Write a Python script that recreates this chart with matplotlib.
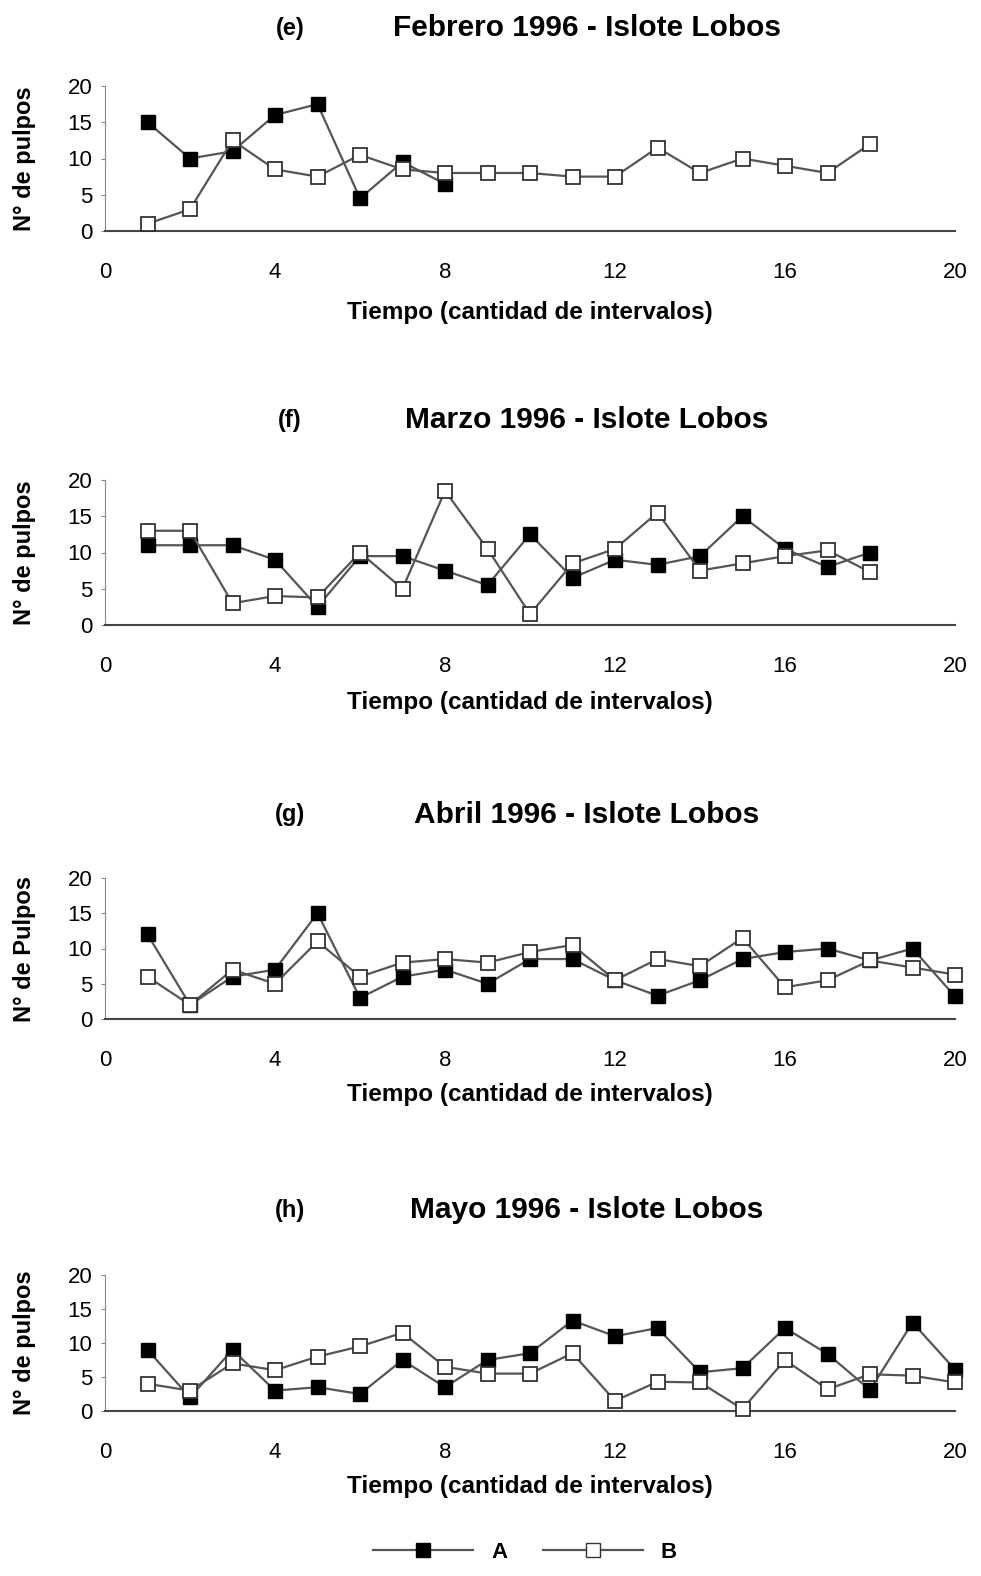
import matplotlib
matplotlib.use("Agg")
import matplotlib.pyplot as plt

plt.rcParams['font.family'] = ['Liberation Sans', 'DejaVu Sans']

# panel titles and y labels
letters = ["(e)", "(f)", "(g)", "(h)"]
titles = ["Febrero 1996 - Islote Lobos", "Marzo 1996 - Islote Lobos",
          "Abril 1996 - Islote Lobos", "Mayo 1996 - Islote Lobos"]
ylabels = ["N° de pulpos", "N° de pulpos", "N° de Pulpos", "N° de pulpos"]

# (e) Febrero
feb_x_a = [1, 2, 3, 4, 5, 6, 7, 8]
feb_a = [15, 10, 11, 16, 17.5, 4.5, 9.5, 6.5]
feb_x_b = list(range(1, 19))
feb_b = [1, 3, 12.5, 8.5, 7.5, 10.5, 8.5, 8, 8, 8, 7.5, 7.5, 11.5, 8, 10, 9, 8, 12]

# (f) Marzo
mar_x = list(range(1, 19))
mar_a = [11, 11, 11, 9, 2.5, 9.5, 9.5, 7.5, 5.5, 12.5, 6.5, 9, 8.3, 9.5, 15, 10.5, 8, 10]
mar_b = [13, 13, 3, 4, 3.8, 10, 5, 18.5, 10.5, 1.5, 8.5, 10.5, 15.5, 7.5, 8.5, 9.5, 10.3, 7.3]

# (g) Abril
abr_x = list(range(1, 21))
abr_a = [12, 2, 6, 7, 15, 3, 6, 7, 5, 8.5, 8.5, 5.5, 3.3, 5.5, 8.5, 9.5, 10, 8.3, 10, 3.2]
abr_b = [6, 2, 7, 5, 11, 6, 8, 8.5, 8, 9.5, 10.5, 5.5, 8.5, 7.5, 11.5, 4.5, 5.5, 8.3, 7.3, 6.3]

# (h) Mayo
may_x = list(range(1, 21))
may_a = [9, 2, 9, 3, 3.5, 2.5, 7.5, 3.5, 7.5, 8.5, 13.3, 11, 12.2, 5.7, 6.3, 12.2, 8.4, 3.1, 13, 6.1]
may_b = [4, 3, 7, 6, 8, 9.5, 11.5, 6.5, 5.5, 5.5, 8.5, 1.5, 4.3, 4.2, 0.3, 7.5, 3.2, 5.4, 5.2, 4.2]

panels = [
    (feb_x_a, feb_a, feb_x_b, feb_b),
    (mar_x, mar_a, mar_x, mar_b),
    (abr_x, abr_a, abr_x, abr_b),
    (may_x, may_a, may_x, may_b),
]

W, H = 981, 1576
fig = plt.figure(figsize=(W / 100, H / 100), dpi=100)

# pixel layout: (top of axes, bottom of axes, title y, xlabel y)
boxes = [(86, 231, 28, 313), (480, 625, 420, 703), (878, 1019, 815, 1095), (1275, 1411, 1210, 1487)]
left, right = 105, 955

line_col = "#555555"
for (xa, ya, xb, yb), (top, bot, ty, ly), let, tit, yl in zip(panels, boxes, letters, titles, ylabels):
    ax = fig.add_axes([left / W, 1 - bot / H, (right - left) / W, (bot - top) / H])
    ax.plot(xa, ya, color=line_col, lw=1.6, marker="s", ms=10,
            mfc="black", mec="black", zorder=3)
    ax.plot(xb, yb, color=line_col, lw=1.6, marker="s", ms=10,
            mfc="white", mec="#333333", mew=1.3, zorder=4)
    ax.set_xlim(0, 20)
    ax.set_ylim(0, 20)
    ax.set_xticks([0, 4, 8, 12, 16, 20])
    ax.set_yticks([0, 5, 10, 15, 20])
    ax.spines['top'].set_visible(False)
    ax.spines['right'].set_visible(False)
    ax.spines['left'].set_color("#888888")
    ax.spines['bottom'].set_color("#444444")
    ax.spines['bottom'].set_linewidth(1.5)
    ax.tick_params(axis='x', length=0, pad=22, labelsize=16)
    ax.tick_params(axis='y', length=3, color="#888888", pad=6, labelsize=16)
    for ln in ax.lines:
        ln.set_clip_on(False)
    fig.text(290 / W, 1 - ty / H, let, ha="center", va="center",
             fontsize=17, fontweight="bold")
    fig.text(587 / W, 1 - ty / H, tit, ha="center", va="center",
             fontsize=21.5, fontweight="bold")
    fig.text(530 / W, 1 - ly / H, "Tiempo (cantidad de intervalos)", ha="center",
             va="center", fontsize=17.5, fontweight="bold")
    fig.text(25 / W, 1 - (top + bot) / 2 / H, yl, ha="center", va="center",
             rotation=90, fontsize=17, fontweight="bold")

# legend at the bottom
lax = fig.add_axes([0, 0, 1, 1], facecolor="none")
lax.set_axis_off()
h1, = lax.plot([], [], color=line_col, lw=1.6, marker="s", ms=10, mfc="black", mec="black")
h2, = lax.plot([], [], color=line_col, lw=1.6, marker="s", ms=10, mfc="white", mec="#333333")
fig.legend([h1, h2], ["A", "B"], loc="center", bbox_to_anchor=(525 / W, 1 - 1552 / H),
           ncol=2, frameon=False, handlelength=4.5, columnspacing=1.6,
           prop={'weight': 'bold', 'size': 16})

fig.savefig("out.png", dpi=100)
